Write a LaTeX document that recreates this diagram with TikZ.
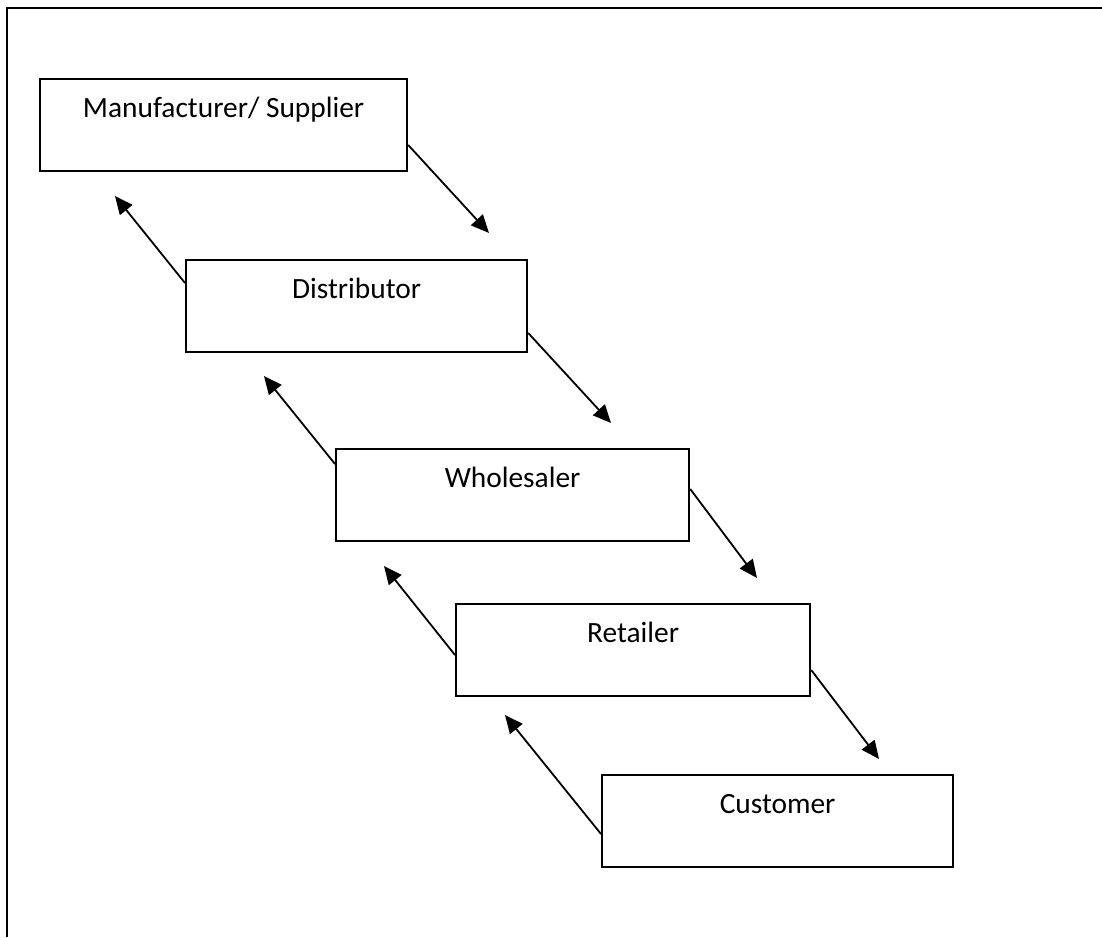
\documentclass[tikz,border=0pt]{standalone}
\usepackage{fontspec}
\setmainfont{Carlito}
\usetikzlibrary{arrows.meta}

\tikzset{
  stage/.style={draw, line width=2.2pt, anchor=north west, inner xsep=0pt, inner ysep=0pt,
    text height=38.7pt, text depth=53.3pt, font=\fontsize{29.4}{35}\selectfont},
  flow/.style={line width=1.8pt, -{Triangle[length=18pt, width=16pt]}},
  frame/.style={line width=2.4pt}
}

\begin{document}
\begin{tikzpicture}[x=1pt, y=-1pt]
  \useasboundingbox (0,0) rectangle (1102,937);

  % open frame: top edge and left edge only
  \coordinate (fa) at (7,8);
  \coordinate (fb) at (1102,8);
  \coordinate (fc) at (7,937);
  \draw[frame] (fc) -- (fa) -- (fb);

  % supply chain stages
  \node[stage, minimum width=367pt] (m) at (39,78)    {Manufacturer/ Supplier};
  \node[stage, minimum width=341pt] (d) at (185,259)  {Distributor};
  \node[stage, minimum width=353pt] (w) at (335,448)  {Wholesaler};
  \node[stage, minimum width=354pt] (r) at (455,603)  {Retailer};
  \node[stage, minimum width=351pt] (c) at (601,774)  {Customer};

  % arrow tips
  \coordinate (md) at (489,233);
  \coordinate (dm) at (115,196);
  \coordinate (dw) at (611,423);
  \coordinate (wd) at (264,376);
  \coordinate (wr) at (757,578);
  \coordinate (rw) at (384,566);
  \coordinate (rc) at (879,759);
  \coordinate (cr) at (505,715);

  % downstream flow
  \draw[flow] ([yshift=-67pt]m.north east) -- (md);
  \draw[flow] ([yshift=-74pt]d.north east) -- (dw);
  \draw[flow] ([yshift=-41pt]w.north east) -- (wr);
  \draw[flow] ([yshift=-67pt]r.north east) -- (rc);

  % upstream flow
  \draw[flow] ([yshift=-24pt]d.north west) -- (dm);
  \draw[flow] ([yshift=-16pt]w.north west) -- (wd);
  \draw[flow] ([yshift=-52pt]r.north west) -- (rw);
  \draw[flow] ([yshift=-60pt]c.north west) -- (cr);
\end{tikzpicture}
\end{document}
